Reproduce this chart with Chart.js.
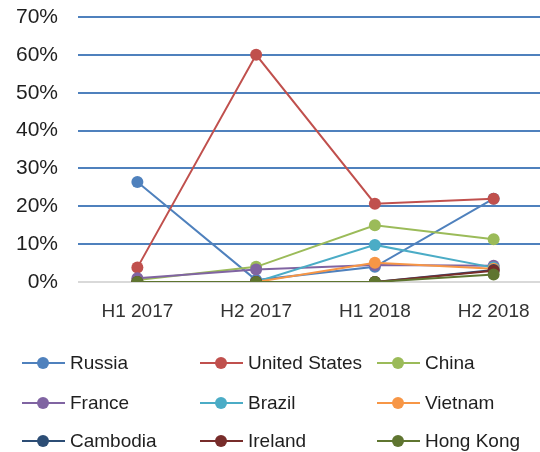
<!DOCTYPE html>
<html>
<head>
<meta charset="utf-8">
<script src="https://cdn.jsdelivr.net/npm/chart.js@4/dist/chart.umd.min.js"></script>
<style>
  html, body { margin: 0; padding: 0; background: #fff; overflow: hidden; }
  #wrap { position: relative; width: 540px; height: 452px; overflow: hidden; }
  #plot { position: absolute; left: 0; top: 0; width: 556px; height: 330px; }
  #legend { position: absolute; left: 0; top: 0; width: 540px; height: 452px; pointer-events: none; }
  .item { position: absolute; height: 20px; display: flex; align-items: center;
          font-family: "Liberation Sans", Arial, sans-serif; font-size: 19px; color: #1f1f1f; }
  .key { position: relative; width: 43px; height: 20px; margin-right: 5px; }
  .key .ln { position: absolute; left: 0; right: 0; top: 9px; height: 2px; }
  .key .dot { position: absolute; left: 15px; top: 4px; width: 12px; height: 12px; border-radius: 50%; }
</style>
</head>
<body>
<div id="wrap">
  <div id="plot"><canvas id="c"></canvas></div>
  <div id="legend"></div>
</div>
<script>
// Half-year periods on the category axis
const periods = ["H1 2017", "H2 2017", "H1 2018", "H2 2018"];

// Share per country (%)
const russia       = [26.4, 0.5, 4.0, 22.0];
const unitedStates = [3.8, 60.0, 20.7, 22.0];
const china        = [0.5, 4.0, 15.0, 11.3];
const france       = [1.0, 3.3, 4.5, 4.3];
const brazil       = [0.0, 0.0, 9.8, 3.8];
const vietnam      = [0.0, 0.0, 5.1, 3.5];
const cambodia     = [0.0, 0.0, 0.0, 3.2];
const ireland      = [0.0, 0.0, 0.0, 3.0];
const hongKong     = [0.0, 0.0, 0.0, 2.0];

const yTicks = [0, 10, 20, 30, 40, 50, 60, 70];

const seriesNames  = ["Russia", "United States", "China", "France", "Brazil", "Vietnam", "Cambodia", "Ireland", "Hong Kong"];
const seriesValues = [russia, unitedStates, china, france, brazil, vietnam, cambodia, ireland, hongKong];
const seriesColors = ["#4F81BD", "#C0504D", "#9BBB59", "#8064A2", "#4BACC6", "#F79646", "#2C4D75", "#772C2A", "#5F7530"];

const datasets = seriesNames.map((name, i) => ({
  label: name,
  data: seriesValues[i],
  borderColor: seriesColors[i],
  backgroundColor: seriesColors[i],
  pointBackgroundColor: seriesColors[i],
  pointBorderColor: seriesColors[i],
  borderWidth: 2,
  pointRadius: 6,
  pointBorderWidth: 0,
  tension: 0,
  order: seriesNames.length - i   // later series painted on top
}));

const chart = new Chart(document.getElementById("c"), {
  type: "line",
  data: { labels: periods, datasets },
  options: {
    responsive: true,
    maintainAspectRatio: false,
    animation: false,
    layout: { autoPadding: false, padding: { top: 17, right: 3, left: 0, bottom: 0 } },
    plugins: { legend: { display: false }, tooltip: { enabled: false } },
    scales: {
      x: {
        offset: true,
        grid: { display: false, drawTicks: false },
        border: { display: false },
        ticks: {
          padding: 18,
          color: "#333333",
          font: { family: "Liberation Sans", size: 19 }
        },
        afterFit(scale) { scale.height = 48; }
      },
      y: {
        min: 0,
        max: 70,
        afterBuildTicks(scale) { scale.ticks = yTicks.map(v => ({ value: v })); },
        grid: {
          drawTicks: false,
          lineWidth: 2,
          color: ctx => (ctx.tick && ctx.tick.value === 0) ? "#D9D9D9" : "#4F81BD"
        },
        border: { display: false },
        ticks: {
          padding: 20,
          color: "#1f1f1f",
          font: { family: "Liberation Sans", size: 21 },
          callback: v => v + "%"
        },
        afterFit(scale) {
          scale.width = 78;
          // the horizontal label gap should not push the plot area down
          scale.paddingTop = 0;
          scale.paddingBottom = 0;
        }
      }
    }
  }
});

// Legend laid out in three columns
const legendEl = document.getElementById("legend");
const colX = [22, 200, 377];
const rowY = [353, 393, 431];
chart.data.datasets.forEach((ds, i) => {
  const item = document.createElement("div");
  item.className = "item";
  item.style.left = colX[i % 3] + "px";
  item.style.top = rowY[Math.floor(i / 3)] + "px";
  item.innerHTML = '<span class="key"><span class="ln" style="background:' + ds.borderColor +
    '"></span><span class="dot" style="background:' + ds.borderColor + '"></span></span>' +
    '<span>' + ds.label + '</span>';
  legendEl.appendChild(item);
});
</script>
</body>
</html>
